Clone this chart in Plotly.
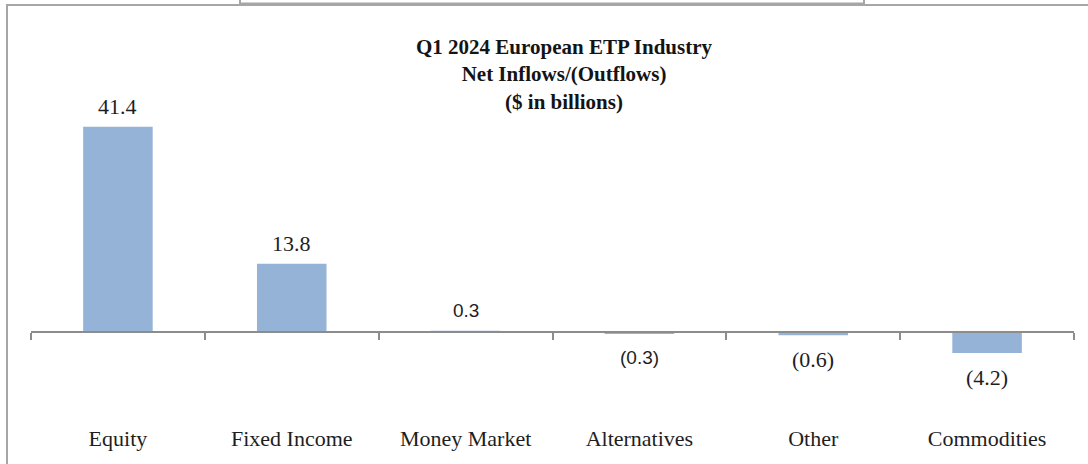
import plotly.graph_objects as go

categories = ["Equity", "Fixed Income", "Money Market", "Alternatives", "Other", "Commodities"]
net_flows = [41.4, 13.8, 0.3, -0.3, -0.6, -4.2]
title_lines = ["Q1 2024 European ETP Industry", "Net Inflows/(Outflows)", "($ in billions)"]

W, H = 1088, 464
ML, MR, MT, MB = 31, 14, 104, 102
YMIN, YMAX = -6, 46
PW, PH = W - ML - MR, H - MT - MB

SERIF = "Liberation Serif"
SANS = "Liberation Sans"
TXT = "#1e1e1e"
GRID = "#8c8c8c"


def px_x(p):
    return (p - ML) / PW


def px_y(p):
    return (MT + PH - p) / PH


def fmt(v):
    return f"{v:.1f}" if v >= 0 else f"({abs(v):.1f})"


fig = go.Figure(
    go.Bar(
        x=categories,
        y=net_flows,
        width=0.40,
        marker=dict(color="#95b3d7", line=dict(width=0)),
        hoverinfo="skip",
    )
)

# data labels
label_fonts = [SERIF, SERIF, SANS, SANS, SERIF, SERIF]
label_sizes = [22, 22, 19, 19, 22, 22]
for c, v, f, s in zip(categories, net_flows, label_fonts, label_sizes):
    fig.add_annotation(
        x=c, y=v, xref="x", yref="y", text=fmt(v), showarrow=False,
        yshift=20.5 if v >= 0 else -24,
        font=dict(family=f, size=s, color=TXT),
    )

# title (three centred lines)
fig.add_annotation(
    x=px_x(564), y=px_y(74.5), xref="paper", yref="paper",
    text="<br>".join(f"<b>{t}</b>" for t in title_lines),
    showarrow=False, xanchor="center", yanchor="middle", align="center",
    font=dict(family=SERIF, size=21, color="#141414"),
)

# outer frames
fig.add_shape(type="rect", xref="paper", yref="paper",
              x0=px_x(7), x1=px_x(1200), y0=px_y(600), y1=px_y(5),
              line=dict(color="#a6a6a6", width=2), fillcolor="rgba(0,0,0,0)", layer="below")
fig.add_shape(type="rect", xref="paper", yref="paper",
              x0=px_x(240), x1=px_x(864), y0=px_y(3.5), y1=px_y(-20),
              line=dict(color="#a6a6a6", width=2), fillcolor="white", layer="below")

zero_pos = (0 - YMIN) / (YMAX - YMIN)

fig.update_layout(
    width=W, height=H,
    margin=dict(l=ML, r=MR, t=MT, b=MB, pad=0),
    paper_bgcolor="white", plot_bgcolor="white",
    showlegend=False,
    xaxis=dict(
        type="category", range=[-0.5, len(categories) - 0.5],
        anchor="free", position=zero_pos,
        showline=True, linecolor=GRID, linewidth=1.5,
        ticks="outside", tickson="boundaries", ticklen=7, tickcolor=GRID, tickwidth=1.5,
        showgrid=False, zeroline=False,
        tickfont=dict(family=SERIF, size=22, color=TXT),
        ticklabelstandoff=87,
    ),
    yaxis=dict(range=[YMIN, YMAX], visible=False, showgrid=False, zeroline=False),
)

fig.write_html("out.html")
